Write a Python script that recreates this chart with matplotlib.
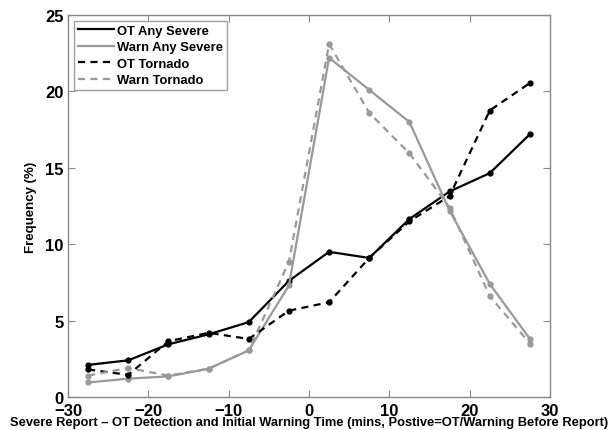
import matplotlib
matplotlib.use("Agg")
import matplotlib.pyplot as plt

x_mins = [-27.5, -22.5, -17.5, -12.5, -7.5, -2.5, 2.5, 7.5, 12.5, 17.5, 22.5, 27.5]
ot_any_severe = [2.1, 2.4, 3.45, 4.1, 4.9, 7.6, 9.5, 9.1, 11.65, 13.45, 14.65, 17.2]
warn_any_severe = [0.95, 1.2, 1.35, 1.85, 3.05, 7.3, 22.2, 20.1, 18.0, 12.2, 7.4, 3.8]
ot_tornado = [1.8, 1.45, 3.65, 4.2, 3.8, 5.65, 6.2, 9.1, 11.5, 13.15, 18.75, 20.55]
warn_tornado = [1.4, 1.9, 1.4, 1.85, 3.05, 8.85, 23.1, 18.6, 15.95, 12.4, 6.6, 3.5]

series_labels = ["OT Any Severe", "Warn Any Severe", "OT Tornado", "Warn Tornado"]
x_ticks = [-30, -20, -10, 0, 10, 20, 30]
y_ticks = [0, 5, 10, 15, 20, 25]

plt.rcParams['font.family'] = ['Liberation Sans', 'DejaVu Sans']
plt.rcParams['font.weight'] = 'bold'

fig = plt.figure(figsize=(6.13, 4.31), dpi=100)
ax = fig.add_axes([68/613, 33/431, 482/613, 382/431])

gray = '#999999'
dash = (0, (3.2, 2.4))
ax.plot(x_mins, ot_any_severe, color='black', lw=1.6, marker='o', ms=3.5, label=series_labels[0])
ax.plot(x_mins, warn_any_severe, color=gray, lw=1.6, marker='o', ms=3.5, label=series_labels[1])
ax.plot(x_mins, ot_tornado, color='black', lw=1.6, ls=dash, marker='o', ms=3.5, label=series_labels[2])
ax.plot(x_mins, warn_tornado, color=gray, lw=1.6, ls=dash, marker='o', ms=3.5, label=series_labels[3])

ax.set_xlim(-30, 30)
ax.set_ylim(0, 25)
ax.set_xticks(x_ticks)
ax.set_yticks(y_ticks)
ax.set_xticklabels([("\u2212%d" % -t) if t < 0 else str(t) for t in x_ticks], fontsize=12, fontweight='bold')
ax.set_yticklabels([str(t) for t in y_ticks], fontsize=12, fontweight='bold')
ax.tick_params(direction='in', top=True, right=True, length=5, width=0.8, color='#888888')
ax.tick_params(axis='x', pad=4)
ax.tick_params(axis='y', pad=3)
for s in ax.spines.values():
    s.set_color('#888888')
    s.set_linewidth(1.0)

ax.set_xlabel("Severe Report \u2013 OT Detection and Initial Warning Time (mins, Postive=OT/Warning Before Report)",
              fontsize=9.3, fontweight='bold', labelpad=-1)
ax.set_ylabel("Frequency (%)", fontsize=9.5, fontweight='bold', labelpad=6)

leg = ax.legend(loc='upper left', fontsize=9.4, frameon=True, fancybox=False, handlelength=2.8,
                handletextpad=0.2, borderpad=0.3, labelspacing=0.33, borderaxespad=0.45)
leg.get_frame().set_edgecolor('#888888')
leg.get_frame().set_linewidth(1.0)
for t in leg.get_texts():
    t.set_fontweight('bold')
for h in leg.legend_handles:
    h.set_marker('')

fig.savefig("out.png", dpi=100)
